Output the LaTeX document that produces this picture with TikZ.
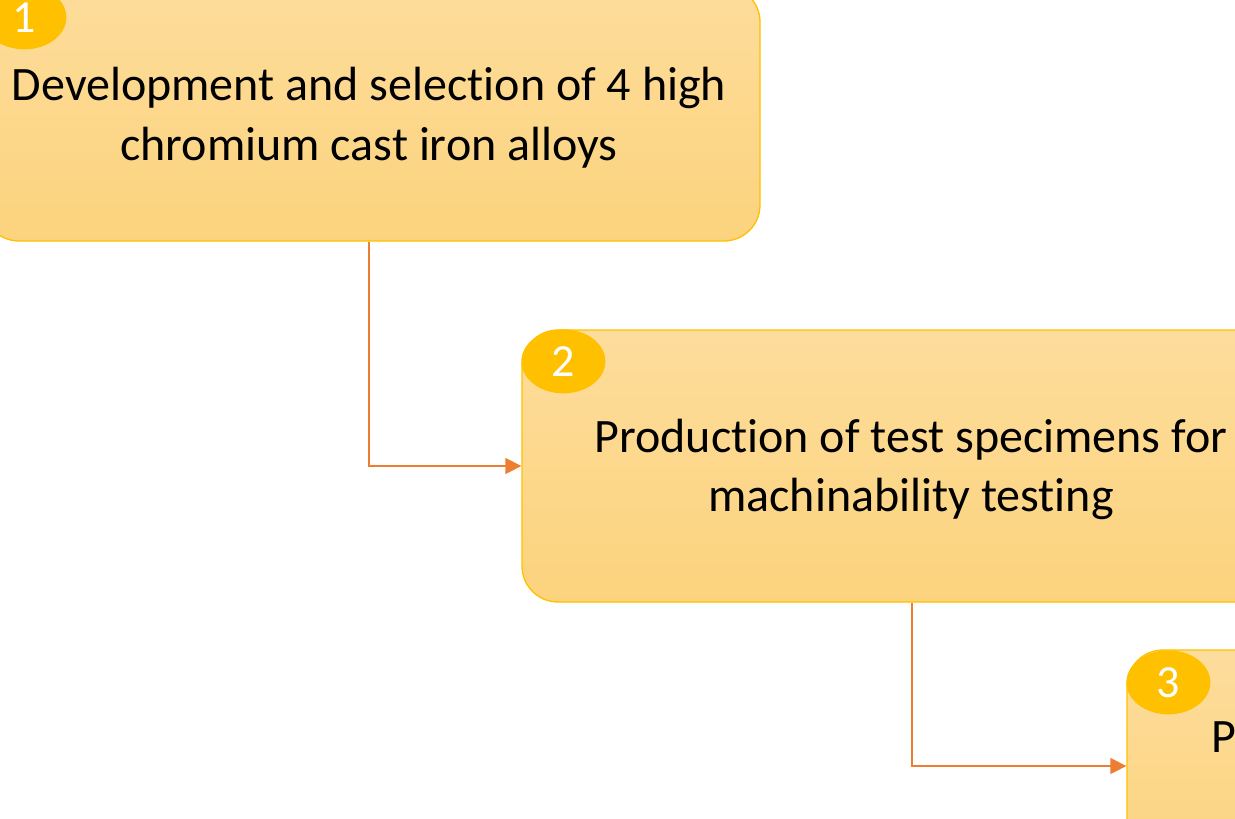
\documentclass[tikz,border=0pt]{standalone}
\usepackage{fontspec}
\setmainfont{Carlito}[Ligatures={NoCommon,NoContextual}]
\usetikzlibrary{shapes.geometric,arrows.meta,calc}
\definecolor{boxtop}{RGB}{253,221,156}
\definecolor{boxbot}{RGB}{252,211,125}
\definecolor{gold}{RGB}{255,192,0}
\definecolor{connc}{RGB}{237,125,49}
\begin{document}
\begin{tikzpicture}[x=1pt,y=-1pt,
  stepbox/.style={rectangle, rounded corners=36pt, draw=gold, line width=1.3pt,
    top color=boxtop, bottom color=boxbot, minimum width=780pt, inner sep=0pt},
  badge/.style={ellipse, fill=gold, minimum width=84pt, minimum height=64pt,
    inner sep=0pt, text=white, font=\fontsize{46}{50}\selectfont},
  txt/.style={anchor=base, inner sep=0pt, font=\fontsize{48}{58}\selectfont},
  link/.style={draw=connc, line width=1.4pt, -{Triangle[length=16pt,width=16pt]}}]
\useasboundingbox (0,0) rectangle (1235,819);
\clip (0,0) rectangle (1235,819);
% boxes
\node[stepbox, minimum width=777pt, minimum height=255pt] (b1) at (371.5,113.5) {};
\node[stepbox, minimum height=272pt] (b2) at (912,466) {};
\node[stepbox, minimum height=232pt] (b3) at (1517,766) {};
% badges
\node[badge] (n1) at ($(b1.north west)+(42,32)$) {1};
\node[badge] (n2) at ($(b2.north west)+(42,32)$) {2};
\node[badge] (n3) at ($(b3.north west)+(42,33)$) {3};
% texts
\node[txt] (t1a) at (369,100) {Development and selection of 4 high};
\node[txt] (t1b) at (369,160) {chromium cast iron alloys};
\node[txt] (t2a) at (911,452) {Production of test specimens for};
\node[txt] (t2b) at (911,511) {machinability testing};
\node[txt, anchor=base west] (t3a) at (1211,752) {P};
% connectors
\draw[link] (b1.south -| t1a.base) |- (b2.west);
\draw[link] (b2.south) |- (b3.west);
\end{tikzpicture}
\end{document}
